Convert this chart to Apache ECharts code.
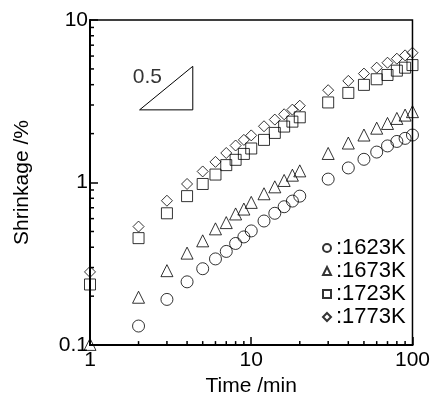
<!DOCTYPE html>
<html>
<head>
<meta charset="utf-8">
<script src="https://cdn.jsdelivr.net/npm/echarts@6/dist/echarts.min.js"></script>
<style>html,body{margin:0;padding:0;background:#fff}#c{width:433px;height:402px}</style>
</head>
<body>
<div id="c"></div>
<script>
var times = [1,2,3,4,5,6,7,8,9,10,12,14,16,18,20,30,40,50,60,70,80,90,100];
var s1623 = [null,0.131,0.191,0.245,0.295,0.339,0.377,0.422,0.463,0.504,0.580,0.647,0.710,0.769,0.825,1.05,1.23,1.39,1.54,1.68,1.79,1.87,1.96];
var s1673 = [0.101,0.197,0.287,0.368,0.438,0.519,0.567,0.641,0.687,0.755,0.853,0.941,1.03,1.11,1.18,1.51,1.75,1.96,2.16,2.31,2.48,2.60,2.73];
var s1723 = [0.236,0.455,0.647,0.825,0.98,1.12,1.28,1.38,1.50,1.62,1.83,2.02,2.21,2.37,2.52,3.11,3.56,3.99,4.32,4.59,4.88,5.09,5.28];
var s1773 = [0.282,0.536,0.773,0.98,1.17,1.34,1.52,1.69,1.83,1.95,2.22,2.44,2.63,2.81,2.97,3.70,4.22,4.68,5.09,5.46,5.78,6.06,6.29];
var seriesNames = ['1623K','1673K','1723K','1773K'];
var xMinorTicks = [2,3,4,5,6,7,8,9,20,30,40,50,60,70,80,90];
var yMinorTicks = [0.2,0.3,0.4,0.5,0.6,0.7,0.8,0.9,2,3,4,5,6,7,8,9];
var slopeTriangle = [[2.03,2.80],[4.34,2.80],[4.34,5.19],[2.03,2.80]];
var slopeLabel = [[2.27,4.43,'0.5']];

function pairs(vals){
  var out = [];
  for (var i=0;i<times.length;i++){ if (vals[i]!=null) out.push([times[i], vals[i]]); }
  return out;
}
var FONT = '"Liberation Sans", Arial, sans-serif';
var hollow = {color:'rgba(0,0,0,0)', borderColor:'#000', borderWidth:1};
function sc(name, vals, sym, size){
  return {type:'scatter', name:name, data:pairs(vals), symbol:sym, symbolSize:size,
    itemStyle:hollow, emphasis:{disabled:true}, z:5};
}
var chart = echarts.init(document.getElementById('c'), null, {renderer:'canvas'});
chart.setOption({
  animation:false,
  backgroundColor:'#fff',
  textStyle:{fontFamily:FONT, color:'#000'},
  grid:{left:90, right:17, top:20, bottom:54, show:true, borderColor:'#000', borderWidth:1.5, backgroundColor:'rgba(0,0,0,0)'},
  legend:{
    orient:'vertical', left:317, top:232, itemWidth:8, itemHeight:8, itemGap:1,
    data:seriesNames, formatter:':{name}',
    textStyle:{fontFamily:FONT, fontSize:22, lineHeight:22, color:'#000'},
    selectedMode:false
  },
  xAxis:{
    type:'log', logBase:10, min:1, max:100,
    name:'Time /min', nameLocation:'middle', nameGap:25,
    nameTextStyle:{fontFamily:FONT, fontSize:21, color:'#000'},
    axisLine:{lineStyle:{color:'#000', width:2}},
    axisTick:{inside:true, length:8, lineStyle:{color:'#000', width:1.5}},
    axisLabel:{fontFamily:FONT, fontSize:21, color:'#000', margin:5},
    splitLine:{show:false}
  },
  yAxis:{
    type:'log', logBase:10, min:0.1, max:10,
    name:'Shrinkage /%', nameLocation:'middle', nameGap:57,
    nameTextStyle:{fontFamily:FONT, fontSize:21, color:'#000'},
    axisLine:{lineStyle:{color:'#000', width:2}},
    axisTick:{inside:true, length:8, lineStyle:{color:'#000', width:1.5}},
    axisLabel:{fontFamily:FONT, fontSize:21, color:'#000', margin:2},
    splitLine:{show:false}
  },
  series:[
    sc(seriesNames[0], s1623, 'circle', 12),
    sc(seriesNames[1], s1673, 'triangle', 12),
    sc(seriesNames[2], s1723, 'rect', 11),
    sc(seriesNames[3], s1773, 'diamond', 11),
    {type:'line', data:slopeTriangle, symbol:'none', silent:true,
     lineStyle:{color:'#000', width:1}, z:3},
    {type:'scatter', data:slopeLabel, symbolSize:0, silent:true,
     label:{show:true, position:'inside', formatter:function(p){return p.data[2];},
       fontFamily:FONT, fontSize:21, color:'#000'}},
    {type:'custom', silent:true, data:xMinorTicks.map(function(v){return [v];}),
     renderItem:function(params, api){
       var p = api.coord([api.value(0), 0.1]);
       return {type:'line', shape:{x1:p[0], y1:p[1], x2:p[0], y2:p[1]-4},
         style:{stroke:'#000', lineWidth:1.5}};
     }, z:4},
    {type:'custom', silent:true, data:yMinorTicks.map(function(v){return [1, v];}),
     renderItem:function(params, api){
       var p = api.coord([1, api.value(1)]);
       return {type:'line', shape:{x1:p[0], y1:p[1], x2:p[0]+4, y2:p[1]},
         style:{stroke:'#000', lineWidth:1.5}};
     }, z:4}
  ]
});
</script>
</body>
</html>
